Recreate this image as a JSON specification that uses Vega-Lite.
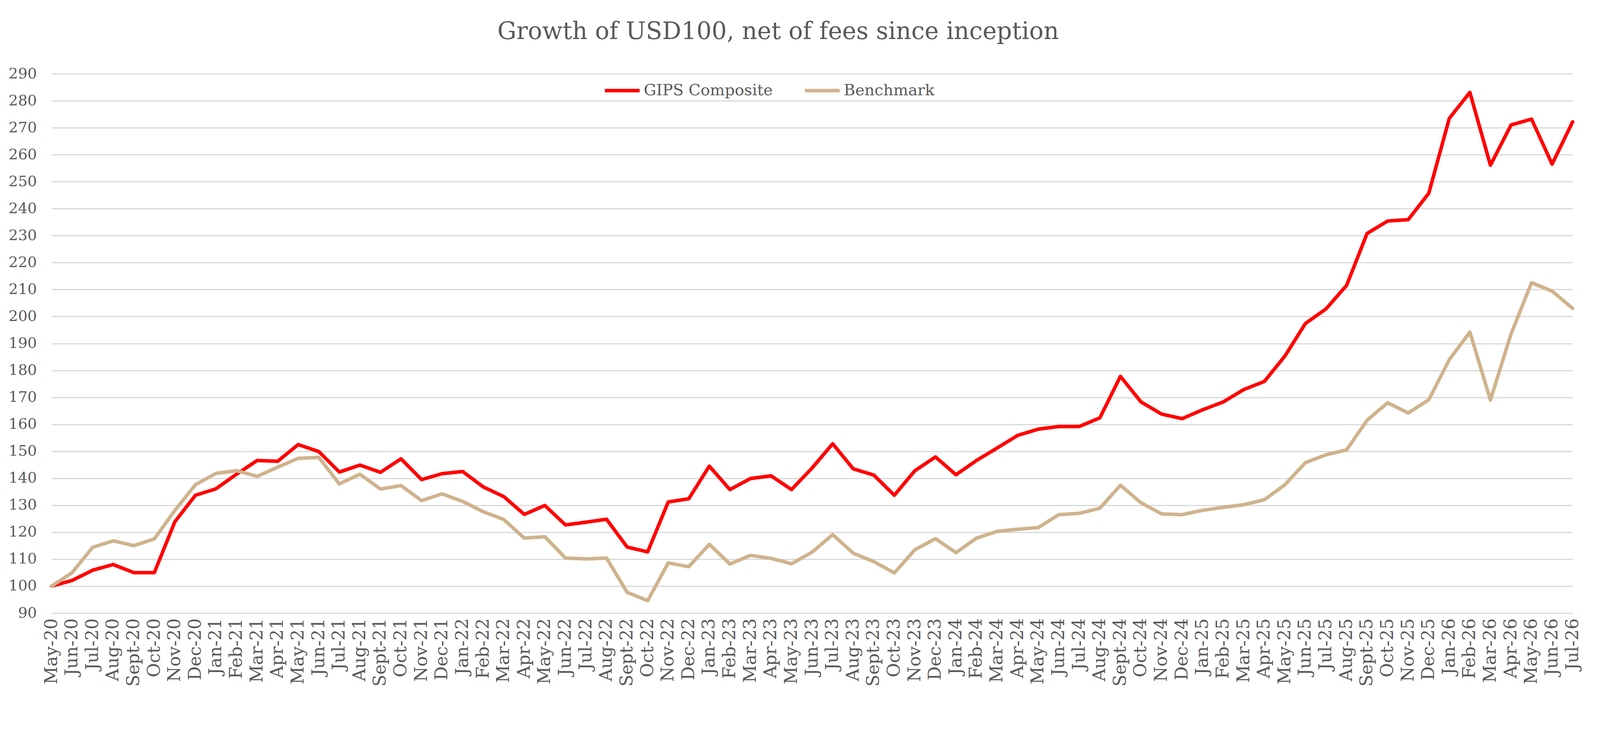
{
  "$schema": "https://vega.github.io/schema/vega-lite/v6.json",
  "autosize": {"type": "none"},
  "width": 3894,
  "height": 1381,
  "padding": {"left": 132, "top": 189, "right": 88, "bottom": 202},
  "background": "white",
  "title": {
    "text": "Growth of USD100, net of fees since inception",
    "font": "DejaVu Serif",
    "fontSize": 61,
    "fontWeight": "normal",
    "color": "#595959",
    "anchor": "middle",
    "frame": "group",
    "dx": -87,
    "offset": 9,
    "baseline": "alphabetic"
  },
  "data": {
    "values": [
      {"month": "May-20", "GIPS Composite": 100, "Benchmark": 100},
      {"month": "Jun-20", "GIPS Composite": 102.1, "Benchmark": 105},
      {"month": "Jul-20", "GIPS Composite": 105.9, "Benchmark": 114.4},
      {"month": "Aug-20", "GIPS Composite": 108, "Benchmark": 116.8},
      {"month": "Sept-20", "GIPS Composite": 105, "Benchmark": 115},
      {"month": "Oct-20", "GIPS Composite": 105, "Benchmark": 117.5},
      {"month": "Nov-20", "GIPS Composite": 123.9, "Benchmark": 128.1},
      {"month": "Dec-20", "GIPS Composite": 133.7, "Benchmark": 137.6},
      {"month": "Jan-21", "GIPS Composite": 136.1, "Benchmark": 141.8},
      {"month": "Feb-21", "GIPS Composite": 141.5, "Benchmark": 142.8},
      {"month": "Mar-21", "GIPS Composite": 146.6, "Benchmark": 140.7},
      {"month": "Apr-21", "GIPS Composite": 146.3, "Benchmark": 144.1},
      {"month": "May-21", "GIPS Composite": 152.5, "Benchmark": 147.4},
      {"month": "Jun-21", "GIPS Composite": 149.9, "Benchmark": 147.7},
      {"month": "Jul-21", "GIPS Composite": 142.3, "Benchmark": 137.9},
      {"month": "Aug-21", "GIPS Composite": 144.9, "Benchmark": 141.5},
      {"month": "Sept-21", "GIPS Composite": 142.2, "Benchmark": 136},
      {"month": "Oct-21", "GIPS Composite": 147.2, "Benchmark": 137.3},
      {"month": "Nov-21", "GIPS Composite": 139.5, "Benchmark": 131.7},
      {"month": "Dec-21", "GIPS Composite": 141.7, "Benchmark": 134.2},
      {"month": "Jan-22", "GIPS Composite": 142.5, "Benchmark": 131.4},
      {"month": "Feb-22", "GIPS Composite": 136.8, "Benchmark": 127.6},
      {"month": "Mar-22", "GIPS Composite": 133.2, "Benchmark": 124.7},
      {"month": "Apr-22", "GIPS Composite": 126.6, "Benchmark": 117.8},
      {"month": "May-22", "GIPS Composite": 129.9, "Benchmark": 118.3},
      {"month": "Jun-22", "GIPS Composite": 122.7, "Benchmark": 110.4},
      {"month": "Jul-22", "GIPS Composite": 123.7, "Benchmark": 110.1},
      {"month": "Aug-22", "GIPS Composite": 124.8, "Benchmark": 110.4},
      {"month": "Sept-22", "GIPS Composite": 114.5, "Benchmark": 97.7},
      {"month": "Oct-22", "GIPS Composite": 112.7, "Benchmark": 94.6},
      {"month": "Nov-22", "GIPS Composite": 131.2, "Benchmark": 108.6},
      {"month": "Dec-22", "GIPS Composite": 132.4, "Benchmark": 107.2},
      {"month": "Jan-23", "GIPS Composite": 144.5, "Benchmark": 115.5},
      {"month": "Feb-23", "GIPS Composite": 135.8, "Benchmark": 108.2},
      {"month": "Mar-23", "GIPS Composite": 139.9, "Benchmark": 111.4},
      {"month": "Apr-23", "GIPS Composite": 140.9, "Benchmark": 110.3},
      {"month": "May-23", "GIPS Composite": 135.8, "Benchmark": 108.3},
      {"month": "Jun-23", "GIPS Composite": 143.8, "Benchmark": 112.6},
      {"month": "Jul-23", "GIPS Composite": 152.8, "Benchmark": 119.1},
      {"month": "Aug-23", "GIPS Composite": 143.5, "Benchmark": 112.2},
      {"month": "Sept-23", "GIPS Composite": 141.2, "Benchmark": 109.1},
      {"month": "Oct-23", "GIPS Composite": 133.7, "Benchmark": 104.9},
      {"month": "Nov-23", "GIPS Composite": 142.8, "Benchmark": 113.5},
      {"month": "Dec-23", "GIPS Composite": 147.9, "Benchmark": 117.6},
      {"month": "Jan-24", "GIPS Composite": 141.3, "Benchmark": 112.4},
      {"month": "Feb-24", "GIPS Composite": 146.6, "Benchmark": 117.8},
      {"month": "Mar-24", "GIPS Composite": 151.2, "Benchmark": 120.3},
      {"month": "Apr-24", "GIPS Composite": 155.9, "Benchmark": 121.1},
      {"month": "May-24", "GIPS Composite": 158.2, "Benchmark": 121.7},
      {"month": "Jun-24", "GIPS Composite": 159.2, "Benchmark": 126.5},
      {"month": "Jul-24", "GIPS Composite": 159.2, "Benchmark": 127},
      {"month": "Aug-24", "GIPS Composite": 162.4, "Benchmark": 128.9},
      {"month": "Sept-24", "GIPS Composite": 177.8, "Benchmark": 137.4},
      {"month": "Oct-24", "GIPS Composite": 168.3, "Benchmark": 130.9},
      {"month": "Nov-24", "GIPS Composite": 163.8, "Benchmark": 126.8},
      {"month": "Dec-24", "GIPS Composite": 162.1, "Benchmark": 126.5},
      {"month": "Jan-25", "GIPS Composite": 165.4, "Benchmark": 128.1},
      {"month": "Feb-25", "GIPS Composite": 168.3, "Benchmark": 129.2},
      {"month": "Mar-25", "GIPS Composite": 172.9, "Benchmark": 130.2},
      {"month": "Apr-25", "GIPS Composite": 175.9, "Benchmark": 132},
      {"month": "May-25", "GIPS Composite": 185.3, "Benchmark": 137.6},
      {"month": "Jun-25", "GIPS Composite": 197.4, "Benchmark": 145.8},
      {"month": "Jul-25", "GIPS Composite": 202.8, "Benchmark": 148.7},
      {"month": "Aug-25", "GIPS Composite": 211.5, "Benchmark": 150.5},
      {"month": "Sept-25", "GIPS Composite": 230.8, "Benchmark": 161.5},
      {"month": "Oct-25", "GIPS Composite": 235.4, "Benchmark": 168},
      {"month": "Nov-25", "GIPS Composite": 235.9, "Benchmark": 164.2},
      {"month": "Dec-25", "GIPS Composite": 245.7, "Benchmark": 169.1},
      {"month": "Jan-26", "GIPS Composite": 273.5, "Benchmark": 184},
      {"month": "Feb-26", "GIPS Composite": 283.1, "Benchmark": 194.2},
      {"month": "Mar-26", "GIPS Composite": 256.1, "Benchmark": 169},
      {"month": "Apr-26", "GIPS Composite": 271, "Benchmark": 193.5},
      {"month": "May-26", "GIPS Composite": 273.2, "Benchmark": 212.5},
      {"month": "Jun-26", "GIPS Composite": 256.5, "Benchmark": 209.4},
      {"month": "Jul-26", "GIPS Composite": 272.2, "Benchmark": 203}
    ]
  },
  "transform": [
    {"fold": ["GIPS Composite", "Benchmark"], "as": ["series", "value"]}
  ],
  "mark": {
    "type": "line",
    "strokeWidth": 9,
    "strokeCap": "round",
    "strokeJoin": "round"
  },
  "encoding": {
    "x": {
      "field": "month",
      "type": "ordinal",
      "sort": null,
      "scale": {"type": "point", "padding": 0},
      "axis": {
        "title": null,
        "labelAngle": 270,
        "labelAlign": "right",
        "labelBaseline": "middle",
        "labelFontSize": 44.5,
        "labelPadding": 13,
        "labelLimit": 400,
        "ticks": false,
        "domain": false,
        "grid": false
      }
    },
    "y": {
      "field": "value",
      "type": "quantitative",
      "scale": {"domain": [90, 290], "nice": false, "zero": false},
      "axis": {
        "title": null,
        "values": [90, 100, 110, 120, 130, 140, 150, 160, 170, 180, 190, 200, 210, 220, 230, 240, 250, 260, 270, 280, 290],
        "labelFontSize": 38,
        "labelPadding": 38,
        "ticks": false,
        "domain": false,
        "grid": true,
        "gridColor": "#D9D9D9",
        "gridWidth": 2.8
      }
    },
    "color": {
      "field": "series",
      "type": "nominal",
      "scale": {
        "domain": ["GIPS Composite", "Benchmark"],
        "range": ["#FF0000", "#CFB38D"]
      },
      "legend": {
        "title": null,
        "orient": "none",
        "direction": "horizontal",
        "legendX": 1412,
        "legendY": -6,
        "symbolType": "stroke",
        "symbolSize": 7921,
        "symbolStrokeWidth": 9,
        "labelFontSize": 40,
        "labelOffset": 6,
        "labelLimit": 600,
        "columnPadding": 63
      }
    }
  },
  "config": {
    "font": "DejaVu Serif",
    "view": {"stroke": null},
    "axis": {"labelColor": "#595959", "labelFont": "DejaVu Serif"},
    "legend": {"labelColor": "#595959", "labelFont": "DejaVu Serif"}
  }
}
